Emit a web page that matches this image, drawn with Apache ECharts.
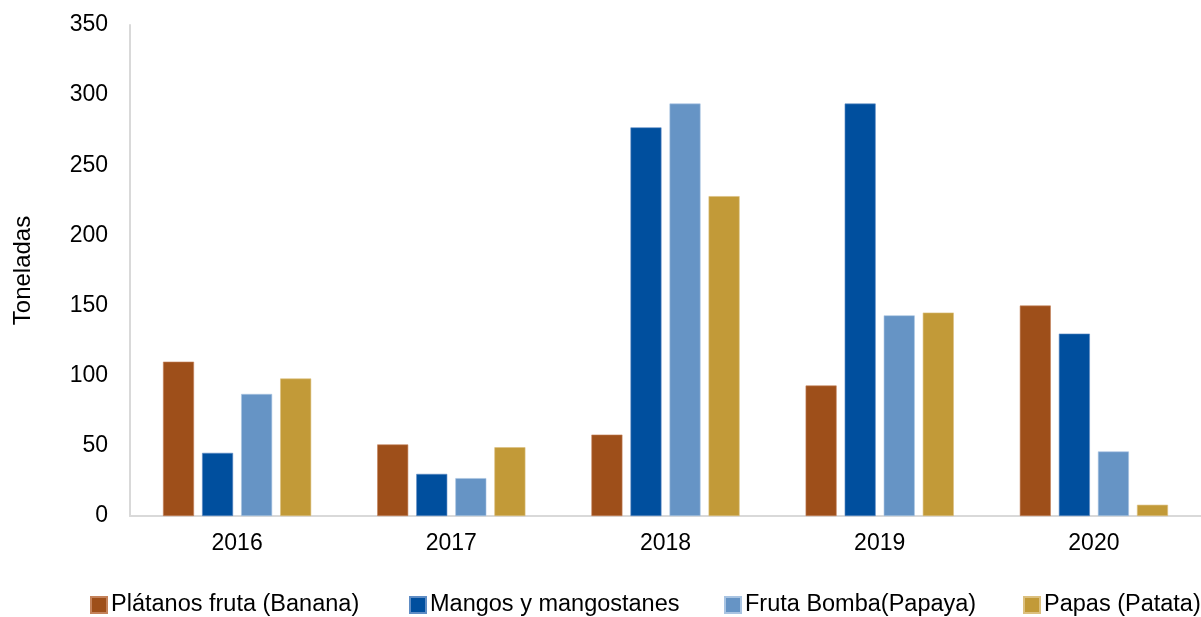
<!DOCTYPE html>
<html>
<head>
<meta charset="utf-8">
<script src="https://cdn.jsdelivr.net/npm/echarts@6/dist/echarts.min.js"></script>
<style>
  html, body { margin: 0; padding: 0; background: #fff; }
  #chart { width: 1201px; height: 617px; }
</style>
</head>
<body>
<div id="chart"></div>
<script>
// datos
var years = ['2016', '2017', '2018', '2019', '2020'];
var seriesNames = ['Plátanos fruta (Banana)', 'Mangos y mangostanes', 'Fruta Bomba(Papaya)', 'Papas (Patata)'];
var banana = [110, 51, 58, 93, 150];
var mangos = [45, 30, 277, 294, 130];
var papaya = [87, 27, 294, 143, 46];
var papas = [98, 49, 228, 145, 8];
var colors = ['#9E4F1A', '#004F9E', '#6694C5', '#C29A38'];
var borders = ['#C4825A', '#5E8CC4', '#A9C4E2', '#DCC07E'];
var legendLeft = [90, 409, 724, 1023];

var myChart = echarts.init(document.getElementById('chart'));

function makeSeries(i, data) {
  return {
    name: seriesNames[i],
    type: 'bar',
    data: data,
    barWidth: 31,
    barGap: '26%',
    itemStyle: { color: colors[i], borderColor: borders[i], borderWidth: 0.6 },
    emphasis: { disabled: true }
  };
}

// una leyenda por serie, el espaciado del original no es regular
var legends = seriesNames.map(function (n, i) {
  return {
    data: [n],
    left: legendLeft[i],
    top: 593,
    padding: 0,
    icon: 'rect',
    itemWidth: 16,
    itemHeight: 16,
    selectedMode: false,
    textStyle: { fontSize: 23.5, color: '#000', padding: [0, 0, 0, -1] }
  };
});

var option = {
  animation: false,
  textStyle: { fontFamily: 'Liberation Sans, Arial, sans-serif' },
  grid: { left: 130, top: 25, width: 1080, height: 491 },
  legend: legends,
  xAxis: {
    type: 'category',
    data: years,
    axisLine: { lineStyle: { color: '#D9D9D9', width: 2 } },
    axisTick: { show: false },
    axisLabel: { fontSize: 23, color: '#000', margin: 16 }
  },
  yAxis: {
    type: 'value',
    min: 0,
    max: 350,
    interval: 50,
    name: 'Toneladas',
    nameLocation: 'middle',
    nameRotate: 90,
    nameGap: 95,
    nameTextStyle: { fontSize: 24, color: '#000' },
    axisLine: { show: true, lineStyle: { color: '#D9D9D9', width: 2 } },
    axisTick: { show: false },
    splitLine: { show: false },
    axisLabel: { fontSize: 23, color: '#000', margin: 22 }
  },
  series: [
    makeSeries(0, banana),
    makeSeries(1, mangos),
    makeSeries(2, papaya),
    makeSeries(3, papas)
  ]
};

myChart.setOption(option);
</script>
</body>
</html>
